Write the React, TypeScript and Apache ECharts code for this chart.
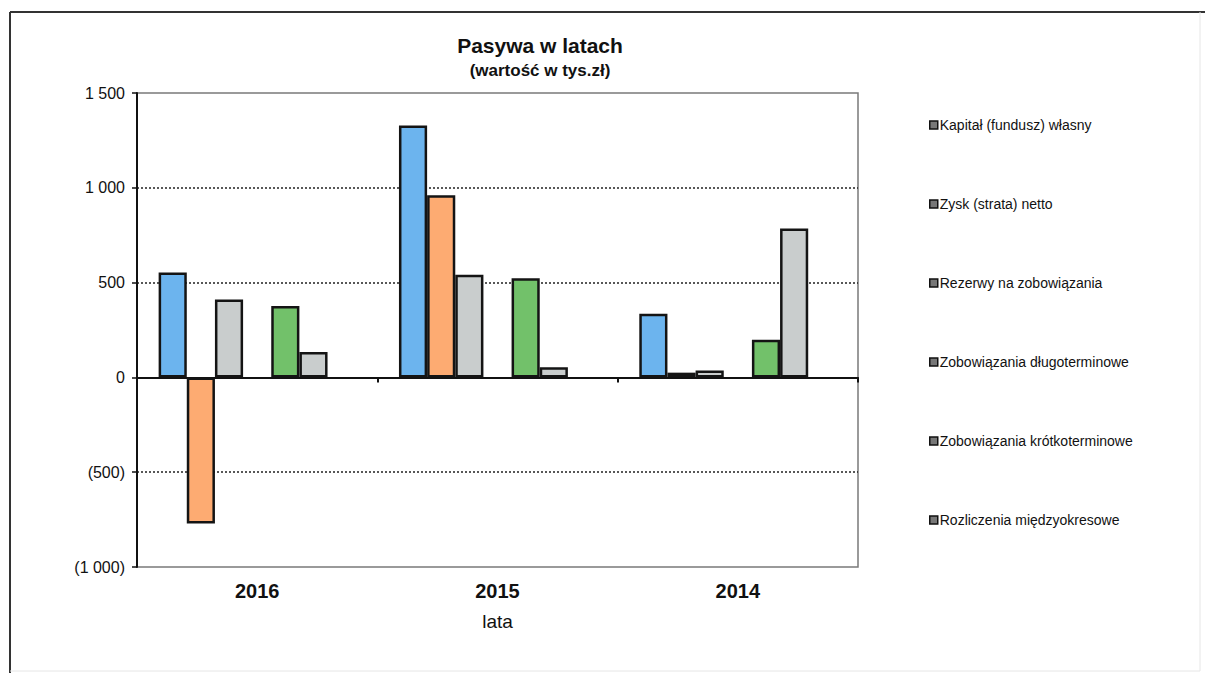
import React, { useEffect, useRef } from "react";
import * as echarts from "echarts";

const categories = ["2016", "2015", "2014"];
const kapital = [553, 1328, 336];
const zysk = [-771, 961, 25];
const rezerwy = [411, 542, 37];
const zobDlugo: (number | null)[] = [null, null, null];
const zobKrotko = [377, 523, 199];
const rozliczenia = [134, 53, 785];
const pusta: (number | null)[] = [null, null, null];

const seriesNames = [
  "Kapitał (fundusz) własny",
  "Zysk (strata) netto",
  "Rezerwy na zobowiązania",
  "Zobowiązania długoterminowe",
  "Zobowiązania krótkoterminowe",
  "Rozliczenia międzyokresowe",
];
const seriesData = [kapital, zysk, rezerwy, zobDlugo, zobKrotko, rozliczenia, pusta];
const seriesColors = ["#6CB4EE", "#FDAB72", "#C9CDCD", "#F5C342", "#72C16A", "#C9CDCD", "#FFFFFF"];

const yTicks: Record<string, string> = {
  "1500": "1 500",
  "1000": "1 000",
  "500": "500",
  "0": "0",
  "-500": "(500)",
  "-1000": "(1 000)",
};

const FONT = "Liberation Sans, Arial, sans-serif";

export default function App() {
  const ref = useRef<HTMLDivElement>(null);
  useEffect(() => {
    if (!ref.current) return;
    const chart = echarts.init(ref.current, null, { renderer: "svg" });
    const series = seriesData.map((d, i) => ({
      type: "bar",
      name: i < seriesNames.length ? seriesNames[i] : "",
      data: d,
      xAxisIndex: 0,
      barGap: "0%",
      barCategoryGap: "18%",
      itemStyle: { color: seriesColors[i], borderColor: "#141414", borderWidth: 2.5 },
      emphasis: { disabled: true },
    }));
    chart.setOption({
      animation: false,
      backgroundColor: "#ffffff",
      textStyle: { fontFamily: FONT },
      title: [
        {
          text: "Pasywa w latach",
          left: 535,
          top: 30,
          textAlign: "center",
          textStyle: { fontFamily: FONT, fontSize: 21, fontWeight: "bold", color: "#111" },
        },
        {
          text: "(wartość w tys.zł)",
          left: 535,
          top: 57,
          textAlign: "center",
          textStyle: { fontFamily: FONT, fontSize: 17, fontWeight: "bold", color: "#111" },
        },
      ],
      legend: {
        orient: "vertical",
        left: 924,
        top: 113,
        itemGap: 65,
        itemWidth: 8,
        itemHeight: 8,
        icon: "rect",
        selectedMode: false,
        data: seriesNames.map((n) => ({
          name: n,
          itemStyle: { color: "#777", borderColor: "#111", borderWidth: 1.5 },
        })),
        textStyle: { fontFamily: FONT, fontSize: 14, color: "#111", padding: [0, 0, 0, -3] },
      },
      grid: {
        left: 137,
        right: 347,
        top: 93,
        bottom: 106,
        show: true,
        borderColor: "#7a7a7a",
        borderWidth: 1.5,
        containLabel: false,
      },
      xAxis: [
        {
          type: "category",
          data: categories,
          axisLine: { onZero: true, lineStyle: { color: "#111", width: 2 } },
          axisTick: { show: true, length: 5, lineStyle: { color: "#111", width: 2 } },
          axisLabel: { show: false },
          splitLine: { show: false },
        },
        {
          type: "category",
          data: categories,
          position: "bottom",
          axisLine: { show: false },
          axisTick: { show: false },
          axisLabel: {
            margin: 14,
            fontFamily: FONT,
            fontSize: 20,
            fontWeight: "bold",
            color: "#111",
          },
          name: "lata",
          nameLocation: "middle",
          nameGap: 45,
          nameTextStyle: { fontFamily: FONT, fontSize: 19, color: "#111" },
        },
      ],
      yAxis: {
        type: "value",
        min: -1000,
        max: 1500,
        interval: 500,
        axisLine: { show: true, lineStyle: { color: "#111", width: 2 } },
        axisTick: { show: true, length: 5, lineStyle: { color: "#111", width: 1.5 } },
        axisLabel: {
          margin: 12,
          fontFamily: FONT,
          fontSize: 16,
          color: "#111",
          formatter: (v: number) => yTicks[String(v)] ?? String(v),
        },
        splitLine: {
          show: true,
          showMinLine: false,
          showMaxLine: false,
          lineStyle: { color: "#222", type: [2, 2], width: 1.5 },
        },
      },
      graphic: [
        { type: "line", shape: { x1: 10, y1: 12, x2: 1205, y2: 12 }, style: { stroke: "#333", lineWidth: 2 } },
        { type: "line", shape: { x1: 10, y1: 12, x2: 10, y2: 673 }, style: { stroke: "#333", lineWidth: 2 } },
        { type: "line", shape: { x1: 1200, y1: 12, x2: 1200, y2: 671 }, style: { stroke: "#e6e6e6", lineWidth: 1 } },
        { type: "line", shape: { x1: 10, y1: 671, x2: 1200, y2: 671 }, style: { stroke: "#e6e6e6", lineWidth: 1 } },
      ],
      series,
    });
    return () => chart.dispose();
  }, []);
  return (
    <div
      ref={ref}
      style={{ position: "fixed", left: 0, top: 0, width: 1205, height: 673, background: "#fff" }}
    />
  );
}
